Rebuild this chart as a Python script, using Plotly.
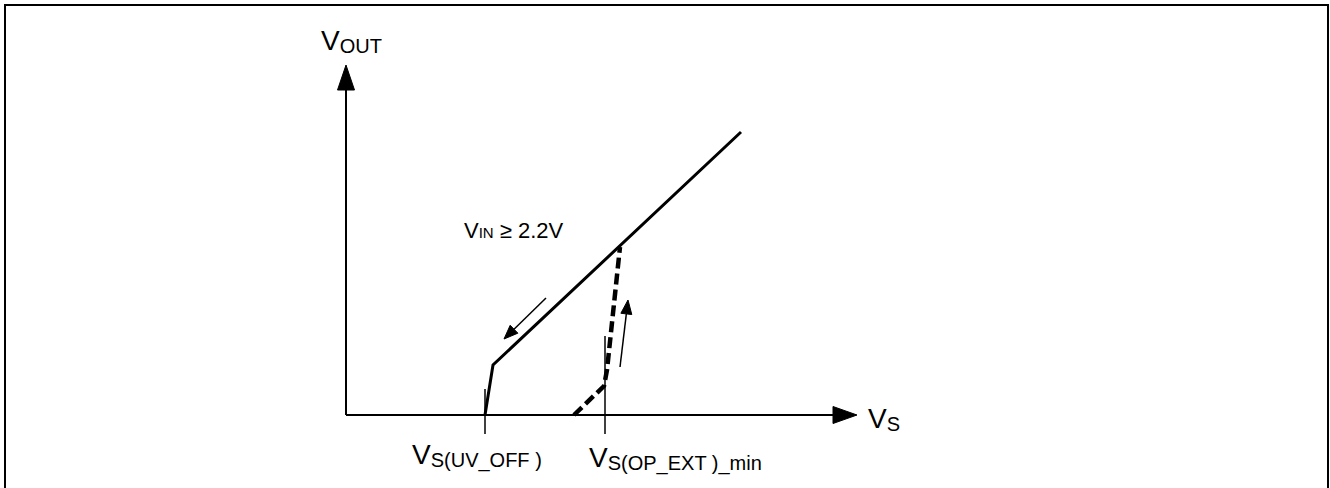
import math
import plotly.graph_objects as go

# ---- schematic data (units: Vs to the right, Vout upwards, origin at axes crossing) ----
vs_axis_tip = 511
vout_axis_tip = 350

solid_vs = [139, 147, 395]
solid_vout = [0, 50, 283]

dashed_vs = [228, 258, 261, 264, 268, 271, 274]
dashed_vout = [0, 29, 45, 75, 115, 145, 168]

tick_vs = [139, 259]
tick_top = [26, 79]
tick_bottom = -19

arrow_down_tail = (200, 117)
arrow_down_tip = (158, 76)
arrow_up_tail = (274, 48)
arrow_up_tip = (282, 115)

FONT = "Liberation Sans"
BIG = 28
SUB = 20
SUBSTYLE = f"font-size:{SUB}px;baseline-shift:-3px"

labels = [
    # (x, y, text)
    (-27, 374, f'V<span style="{SUBSTYLE}">OUT</span>'),
    (520, -4, f'V<span style="{SUBSTYLE}">S</span>'),
    (64, -40, f'V<span style="{SUBSTYLE}">S(UV_OFF )</span>'),
    (241, -43, f'V<span style="{SUBSTYLE}">S(OP_EXT )_min</span>'),
]
vin_label = (116, 185, 'V<span style="font-size:15px">IN</span> ≥ 2.2V')


def triangle(tip, tail, length, half):
    dx, dy = tip[0] - tail[0], tip[1] - tail[1]
    n = math.hypot(dx, dy)
    ux, uy = dx / n, dy / n
    bx, by = tip[0] - length * ux, tip[1] - length * uy
    px, py = -uy, ux
    xs = [tip[0], bx + half * px, bx - half * px, tip[0]]
    ys = [tip[1], by + half * py, by - half * py, tip[1]]
    return xs, ys, (bx, by)


fig = go.Figure()

def line(xs, ys, width, dash="solid"):
    fig.add_trace(go.Scatter(x=xs, y=ys, mode="lines",
                             line=dict(color="black", width=width, dash=dash),
                             hoverinfo="skip"))

def fill(xs, ys):
    fig.add_trace(go.Scatter(x=xs, y=ys, mode="lines", fill="toself",
                             fillcolor="black", line=dict(color="black", width=1),
                             hoverinfo="skip"))

# axes with arrow heads
tx, ty, base = triangle((vs_axis_tip, 0), (0, 0), 24, 8.5)
line([0, base[0]], [0, 0], 2)
fill(tx, ty)
tx, ty, base = triangle((0, vout_axis_tip), (0, 0), 25, 8.5)
line([0, 0], [0, base[1]], 2)
fill(tx, ty)

# ticks
for xv, top in zip(tick_vs, tick_top):
    line([xv, xv], [tick_bottom, top], 1.5)

# curves
line(solid_vs, solid_vout, 3)
line(dashed_vs, dashed_vout, 4.5, dash="11px,5px")

# small direction arrows
for tail, tip in [(arrow_down_tail, arrow_down_tip), (arrow_up_tail, arrow_up_tip)]:
    tx, ty, base = triangle(tip, tail, 14, 5.5)
    line([tail[0], base[0]], [tail[1], base[1]], 1.5)
    fill(tx, ty)

annotations = []
for x, y, t in labels:
    annotations.append(dict(x=x, y=y, text=t, showarrow=False, xanchor="left",
                            yanchor="middle", font=dict(family=FONT, size=BIG, color="black")))
annotations.append(dict(x=vin_label[0], y=vin_label[1], text=vin_label[2], showarrow=False,
                        xanchor="left", yanchor="middle",
                        font=dict(family=FONT, size=22, color="black")))

fig.update_layout(
    width=1330, height=488,
    margin=dict(l=0, r=0, t=0, b=0),
    paper_bgcolor="white", plot_bgcolor="white",
    showlegend=False,
    xaxis=dict(range=[-346, 984], visible=False, fixedrange=True),
    yaxis=dict(range=[-73, 415], visible=False, fixedrange=True),
    annotations=annotations,
    shapes=[dict(type="path", xref="paper", yref="paper",
                 path=f"M {5/1330},-0.2 L {5/1330},{1-5/488} L {1328/1330},{1-5/488} L {1328/1330},-0.2",
                 line=dict(color="black", width=2))],
)

fig.write_html("out.html", config={"displayModeBar": False, "staticPlot": True},
               post_script="document.body.style.margin='0px';document.body.style.overflow='hidden';")
